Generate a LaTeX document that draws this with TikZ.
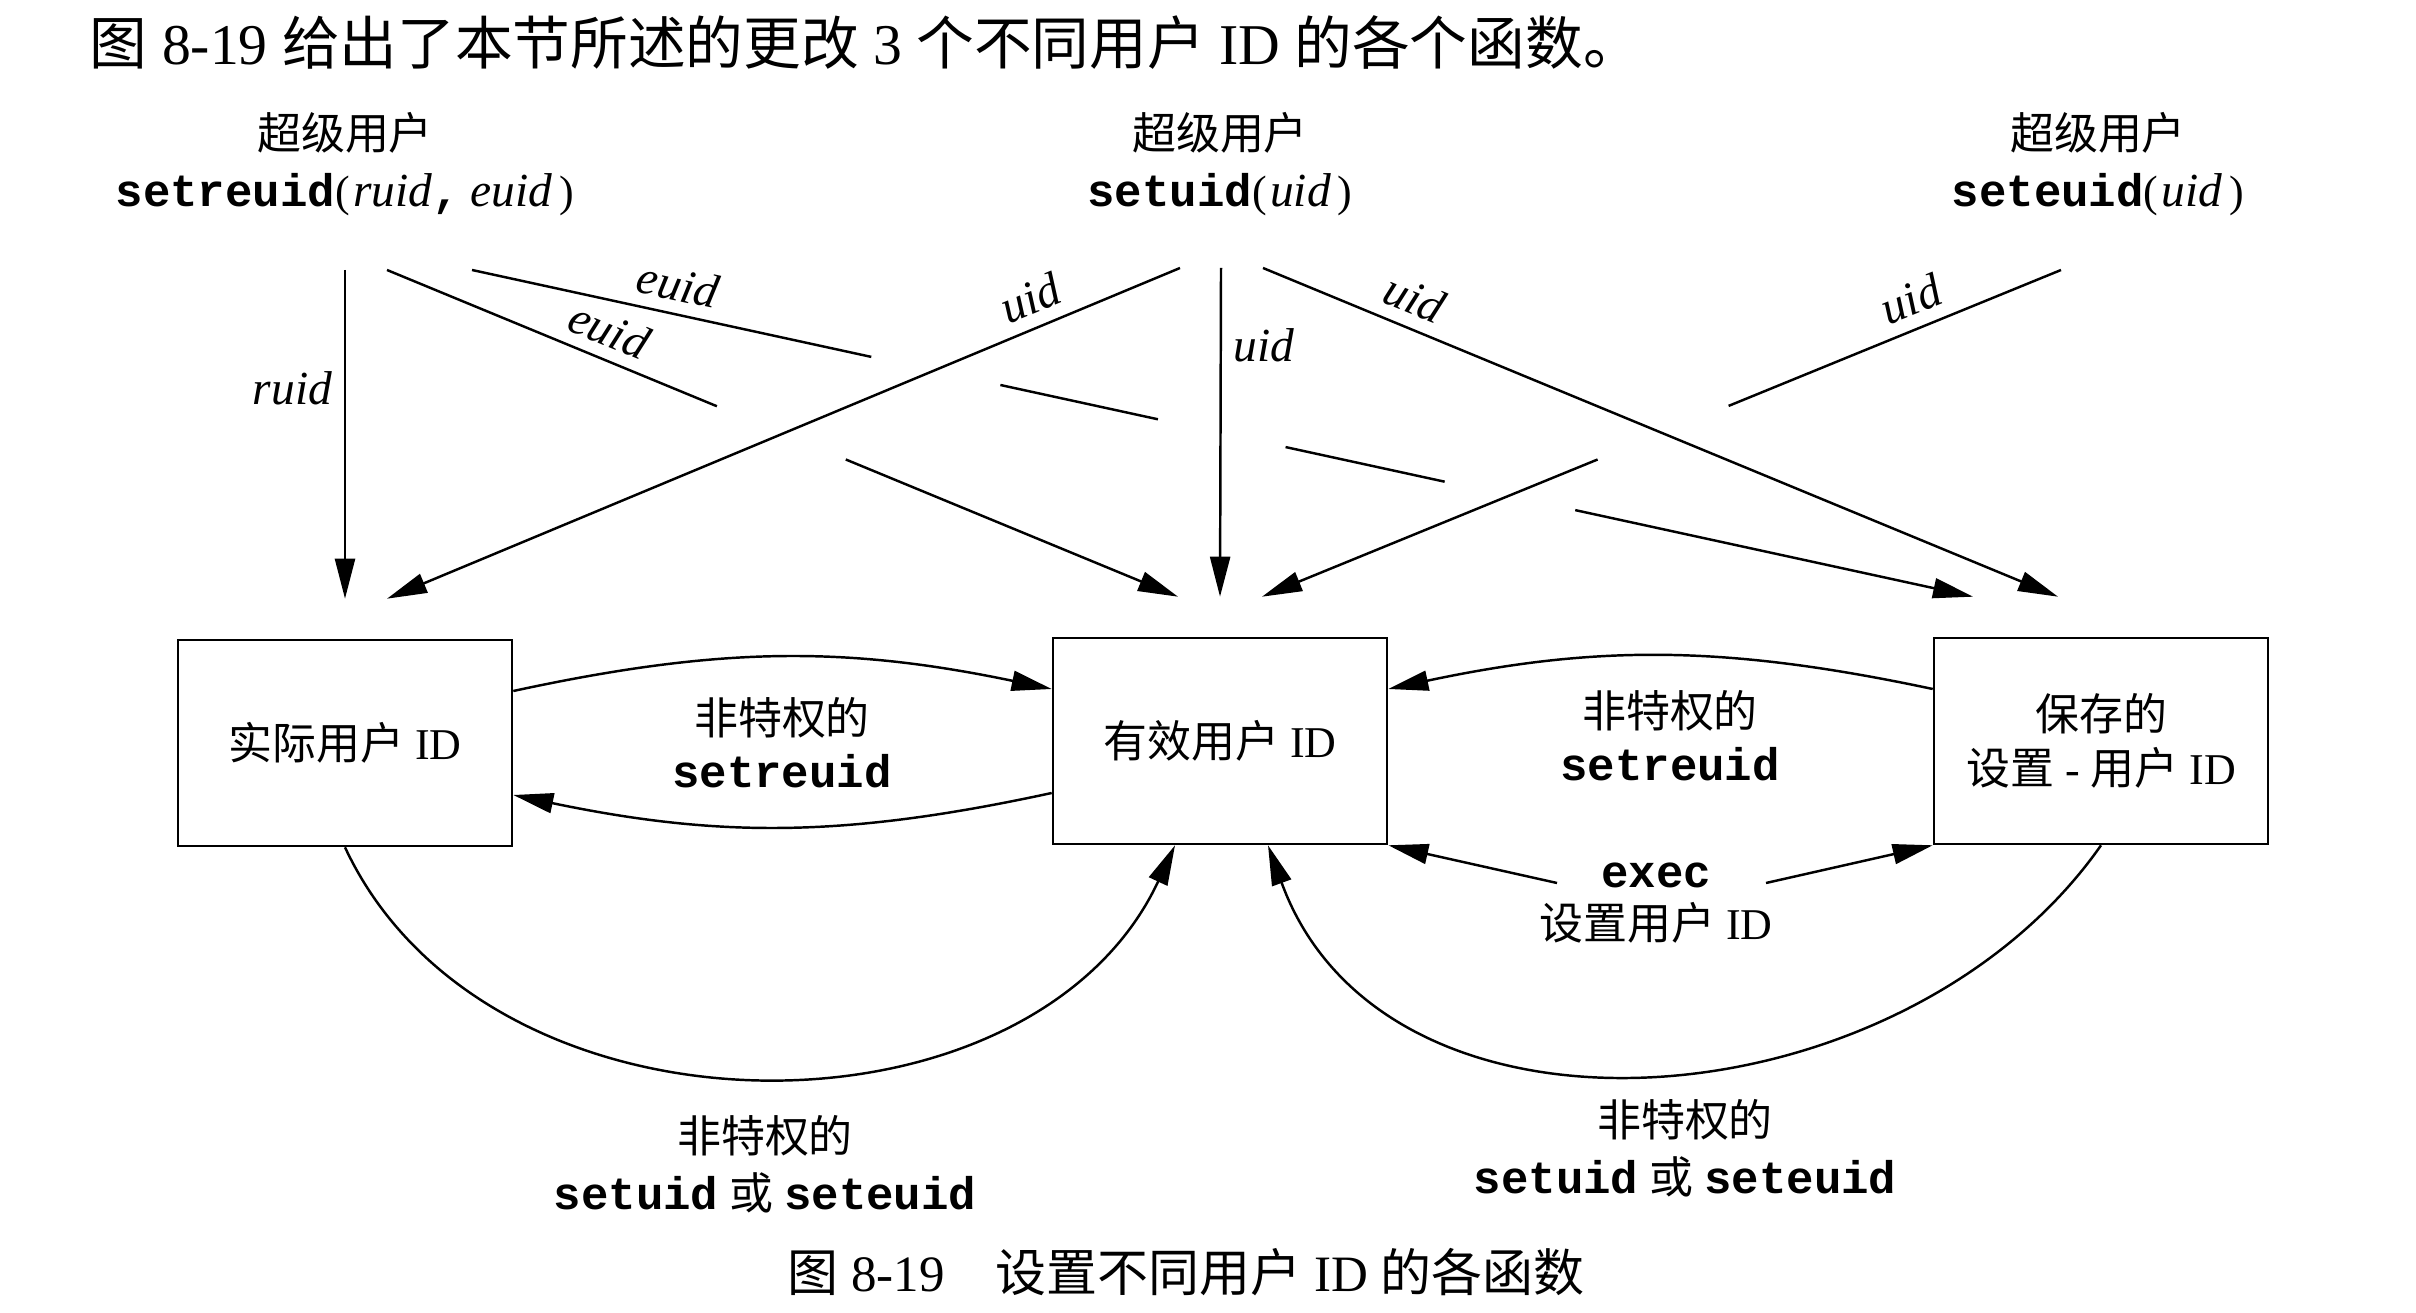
\documentclass[tikz,border=0pt]{standalone}
\usepackage{fontspec}
\setmainfont{Liberation Serif}
\setmonofont{Liberation Mono}
\newfontfamily\cjk{Noto Sans CJK SC}
\newcommand{\zh}[1]{{\cjk #1}}
\newcommand{\prog}[1]{{\fontsize{13}{15}\selectfont\ttfamily\bfseries #1}}
\newcommand{\idv}[1]{{\fontsize{13.5}{15}\selectfont\itshape #1}}
\usetikzlibrary{arrows.meta,calc}
\tikzset{
  idbox/.style={draw, minimum width=3.34cm, minimum height=2.06cm, inner sep=0pt,
    align=center, font=\fontsize{12.5}{15.5}\selectfont},
  fn/.style={align=center, font=\fontsize{12.5}{16.2}\selectfont},
  note/.style={align=center, font=\fontsize{12.5}{15}\selectfont},
  lbl/.style={font=\fontsize{13.5}{15}\selectfont\itshape},
  arr/.style={-{Triangle[length=4mm,width=2mm]}}
}
\begin{document}
\begin{tikzpicture}[x=0.01cm,y=0.01cm,line width=0.7pt]
\useasboundingbox (0,0) rectangle (2416,1312);
\node[anchor=west,font=\fontsize{16.4}{19}\selectfont] (intro) at (77,1269)
  {\zh{图} 8-19 \zh{给出了本节所述的更改} 3 \zh{个不同用户} ID \zh{的各个函数。}};
% callers
\node[fn] (sreu) at (345,1148) {\zh{超级用户}\\\prog{setreuid}(\kern1pt\idv{ruid}\prog{,} \idv{euid}\kern2pt)};
\node[fn] (suid) at (1220,1148) {\zh{超级用户}\\\prog{setuid}(\kern1pt\idv{uid}\kern2pt)};
\node[fn] (seuid) at (2098,1148) {\zh{超级用户}\\\prog{seteuid}(\kern1pt\idv{uid}\kern2pt)};
% the three ids
\node[idbox] (real) at (345,569) {\zh{实际用户} ID};
\node[idbox] (eff) at (1220,571) {\zh{有效用户} ID};
\node[idbox] (saved) at (2101,571) {\zh{保存的}\\\zh{设置} - \zh{用户} ID};
% line ends
\coordinate (r0) at (345,1042);
\coordinate (e1) at (387,1042);
\coordinate (e2) at (472,1042);
\coordinate (u1) at (1180,1044);
\coordinate (u2) at (1221,1044);
\coordinate (u3) at (1263,1044);
\coordinate (v1) at (2061,1042);
\coordinate (realA) at ($(real.north)+(0,40)$);
\coordinate (realB) at ($(real.north)+(42,40)$);
\coordinate (effA) at ($(eff.north)+(-42,40)$);
\coordinate (effB) at ($(eff.north)+(0,40)$);
\coordinate (effC) at ($(eff.north)+(42,40)$);
\coordinate (savA) at ($(saved.north)+(-128,40)$);
\coordinate (savB) at ($(saved.north)+(-43,40)$);
\draw[arr] (r0) -- node[lbl,left,pos=.36] {ruid} (realA);
\draw (e1) -- node[lbl,sloped,above,pos=.64] {euid} ($(e1)!.417!(effA)$);
\draw[arr] ($(e1)!.58!(effA)$) -- (effA);
\draw (e2) -- node[lbl,sloped,above,pos=.5] {euid} ($(e2)!.266!(savA)$);
\foreach \a/\b in {.352/.457,.542/.648}
  \draw ($(e2)!\a!(savA)$) -- ($(e2)!\b!(savA)$);
\draw[arr] ($(e2)!.735!(savA)$) -- (savA);
\draw[arr] (u1) -- node[lbl,sloped,above,pos=.174] {uid} (realB);
\draw[arr] (u2) -- node[lbl,right,pos=.234] {uid} (effB);
\draw[arr] (u3) -- node[lbl,sloped,above,pos=.176] {uid} (savB);
\draw (v1) -- node[lbl,sloped,above,pos=.418] {uid} ($(v1)!.416!(effC)$);
\draw[arr] ($(v1)!.58!(effC)$) -- (effC);
% unprivileged setreuid
\draw[arr] ($(real.east)+(0,52)$) to[bend left=12] ($(eff.west)+(0,52)$);
\draw[arr] ($(eff.west)+(0,-52)$) to[bend left=12] ($(real.east)+(0,-52)$);
\draw[arr] ($(saved.west)+(0,52)$) to[bend right=12] ($(eff.east)+(0,52)$);
\node[note] (priv1) at (782,569) {\zh{非特权的}\\\prog{setreuid}};
\node[note] (priv2) at (1670,576) {\zh{非特权的}\\\prog{setreuid}};
% exec
\node[note] (exec) at (1656,409) {\prog{exec}\\\zh{设置用户} ID};
\coordinate (execL) at (1557,429);
\coordinate (execR) at (1766,429);
\draw[arr] (execL) -- (eff.south east);
\draw[arr] (execR) -- (saved.south west);
% unprivileged setuid / seteuid
\draw[arr] (real.south) to[out=-65,in=-115,looseness=1.04] ($(eff.south)+(-45,0)$);
\draw[arr] (saved.south) to[out=-125,in=-70,looseness=1.06] ($(eff.south)+(48,0)$);
\node[fn] (priv3) at (765,148) {\zh{非特权的}\\\prog{setuid} \zh{或} \prog{seteuid}};
\node[fn] (priv4) at (1685,164) {\zh{非特权的}\\\prog{setuid} \zh{或} \prog{seteuid}};
\node[font=\fontsize{14.5}{17}\selectfont] (cap) at (1186,40)
  {\zh{图} 8-19\quad\zh{设置不同用户} ID \zh{的各函数}};
\end{tikzpicture}
\end{document}
